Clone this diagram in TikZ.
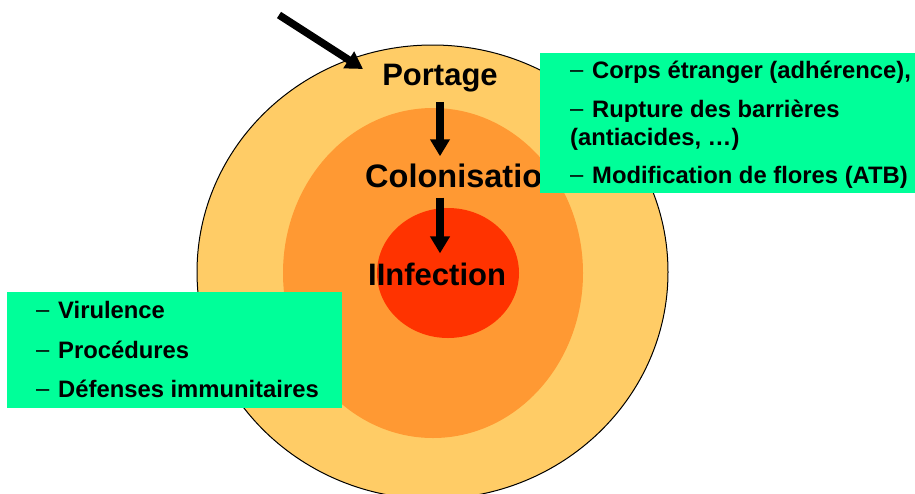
\documentclass[tikz,border=0pt]{standalone}
\usepackage{fontspec}
\setmainfont{Liberation Sans}
\usetikzlibrary{arrows.meta}
\definecolor{outerc}{HTML}{FFCC66}
\definecolor{midc}{HTML}{FF9933}
\definecolor{innerc}{HTML}{FF3300}
\definecolor{boxc}{HTML}{00FF99}
\newcommand{\mydash}{\makebox[22pt][l]{\normalfont\raisebox{0.5pt}{–}}}
\tikzset{
  bigtext/.style={inner sep=0pt, font=\fontsize{31}{31}\selectfont\bfseries},
  smalltext/.style={inner sep=0pt, font=\fontsize{23.8}{23.8}\selectfont\bfseries},
  greenbox/.style={fill=boxc, draw=none, inner sep=0pt},
  thickarrow/.style={line width=7.5pt, -{Triangle[width=19pt,length=17pt]}},
}
\begin{document}
\begin{tikzpicture}[x=1pt,y=-1pt]
\useasboundingbox (0,0) rectangle (915,493);
% circles
\fill[outerc] (432.5,272) ellipse [x radius=235.5, y radius=227];
\draw[line width=1pt] (432.5,272) ellipse [x radius=235.5, y radius=227];
\fill[midc] (433,273) ellipse [x radius=150, y radius=165];
\fill[innerc] (448,273) ellipse [x radius=71, y radius=65];
% main labels
\node[bigtext, anchor=base] (portage) at (440,85) {Portage};
\node[bigtext, anchor=base west, font=\fontsize{32.5}{32.5}\selectfont\bfseries] (colon) at (365,187) {Colonisation};
\node[bigtext, anchor=base west] (infect) at (368,285) {IInfection};
% arrows
\draw[thickarrow, shorten <=10pt, shorten >=7pt] (portage.south) -- (portage.south |- colon.north);
\draw[thickarrow, shorten <=10pt, shorten >=9pt] (portage.south |- colon.south) -- (portage.south |- infect.north);
\coordinate (src) at (279,15);
\coordinate (tgt) at (363,69);
\draw[thickarrow] (src) -- (tgt);
% right box
\node[greenbox, anchor=north west, minimum width=375pt, minimum height=140pt] (rbox) at (540,53) {};
\node[smalltext, anchor=base west] (r1) at (570,78) {\mydash Corps étranger (adhérence),};
\node[smalltext, anchor=base west] (r2) at (570,117) {\mydash Rupture des barrières};
\node[smalltext, anchor=base west] (r3) at (570,145) {(antiacides, …)};
\node[smalltext, anchor=base west] (r4) at (570,183) {\mydash Modification de flores (ATB)};
% left box
\node[greenbox, anchor=north west, minimum width=335pt, minimum height=116pt] (lbox) at (7,292) {};
\node[smalltext, anchor=base west] (l1) at (36,318) {\mydash Virulence};
\node[smalltext, anchor=base west] (l2) at (36,358) {\mydash Procédures};
\node[smalltext, anchor=base west] (l3) at (36,397) {\mydash Défenses immunitaires};
\end{tikzpicture}
\end{document}
